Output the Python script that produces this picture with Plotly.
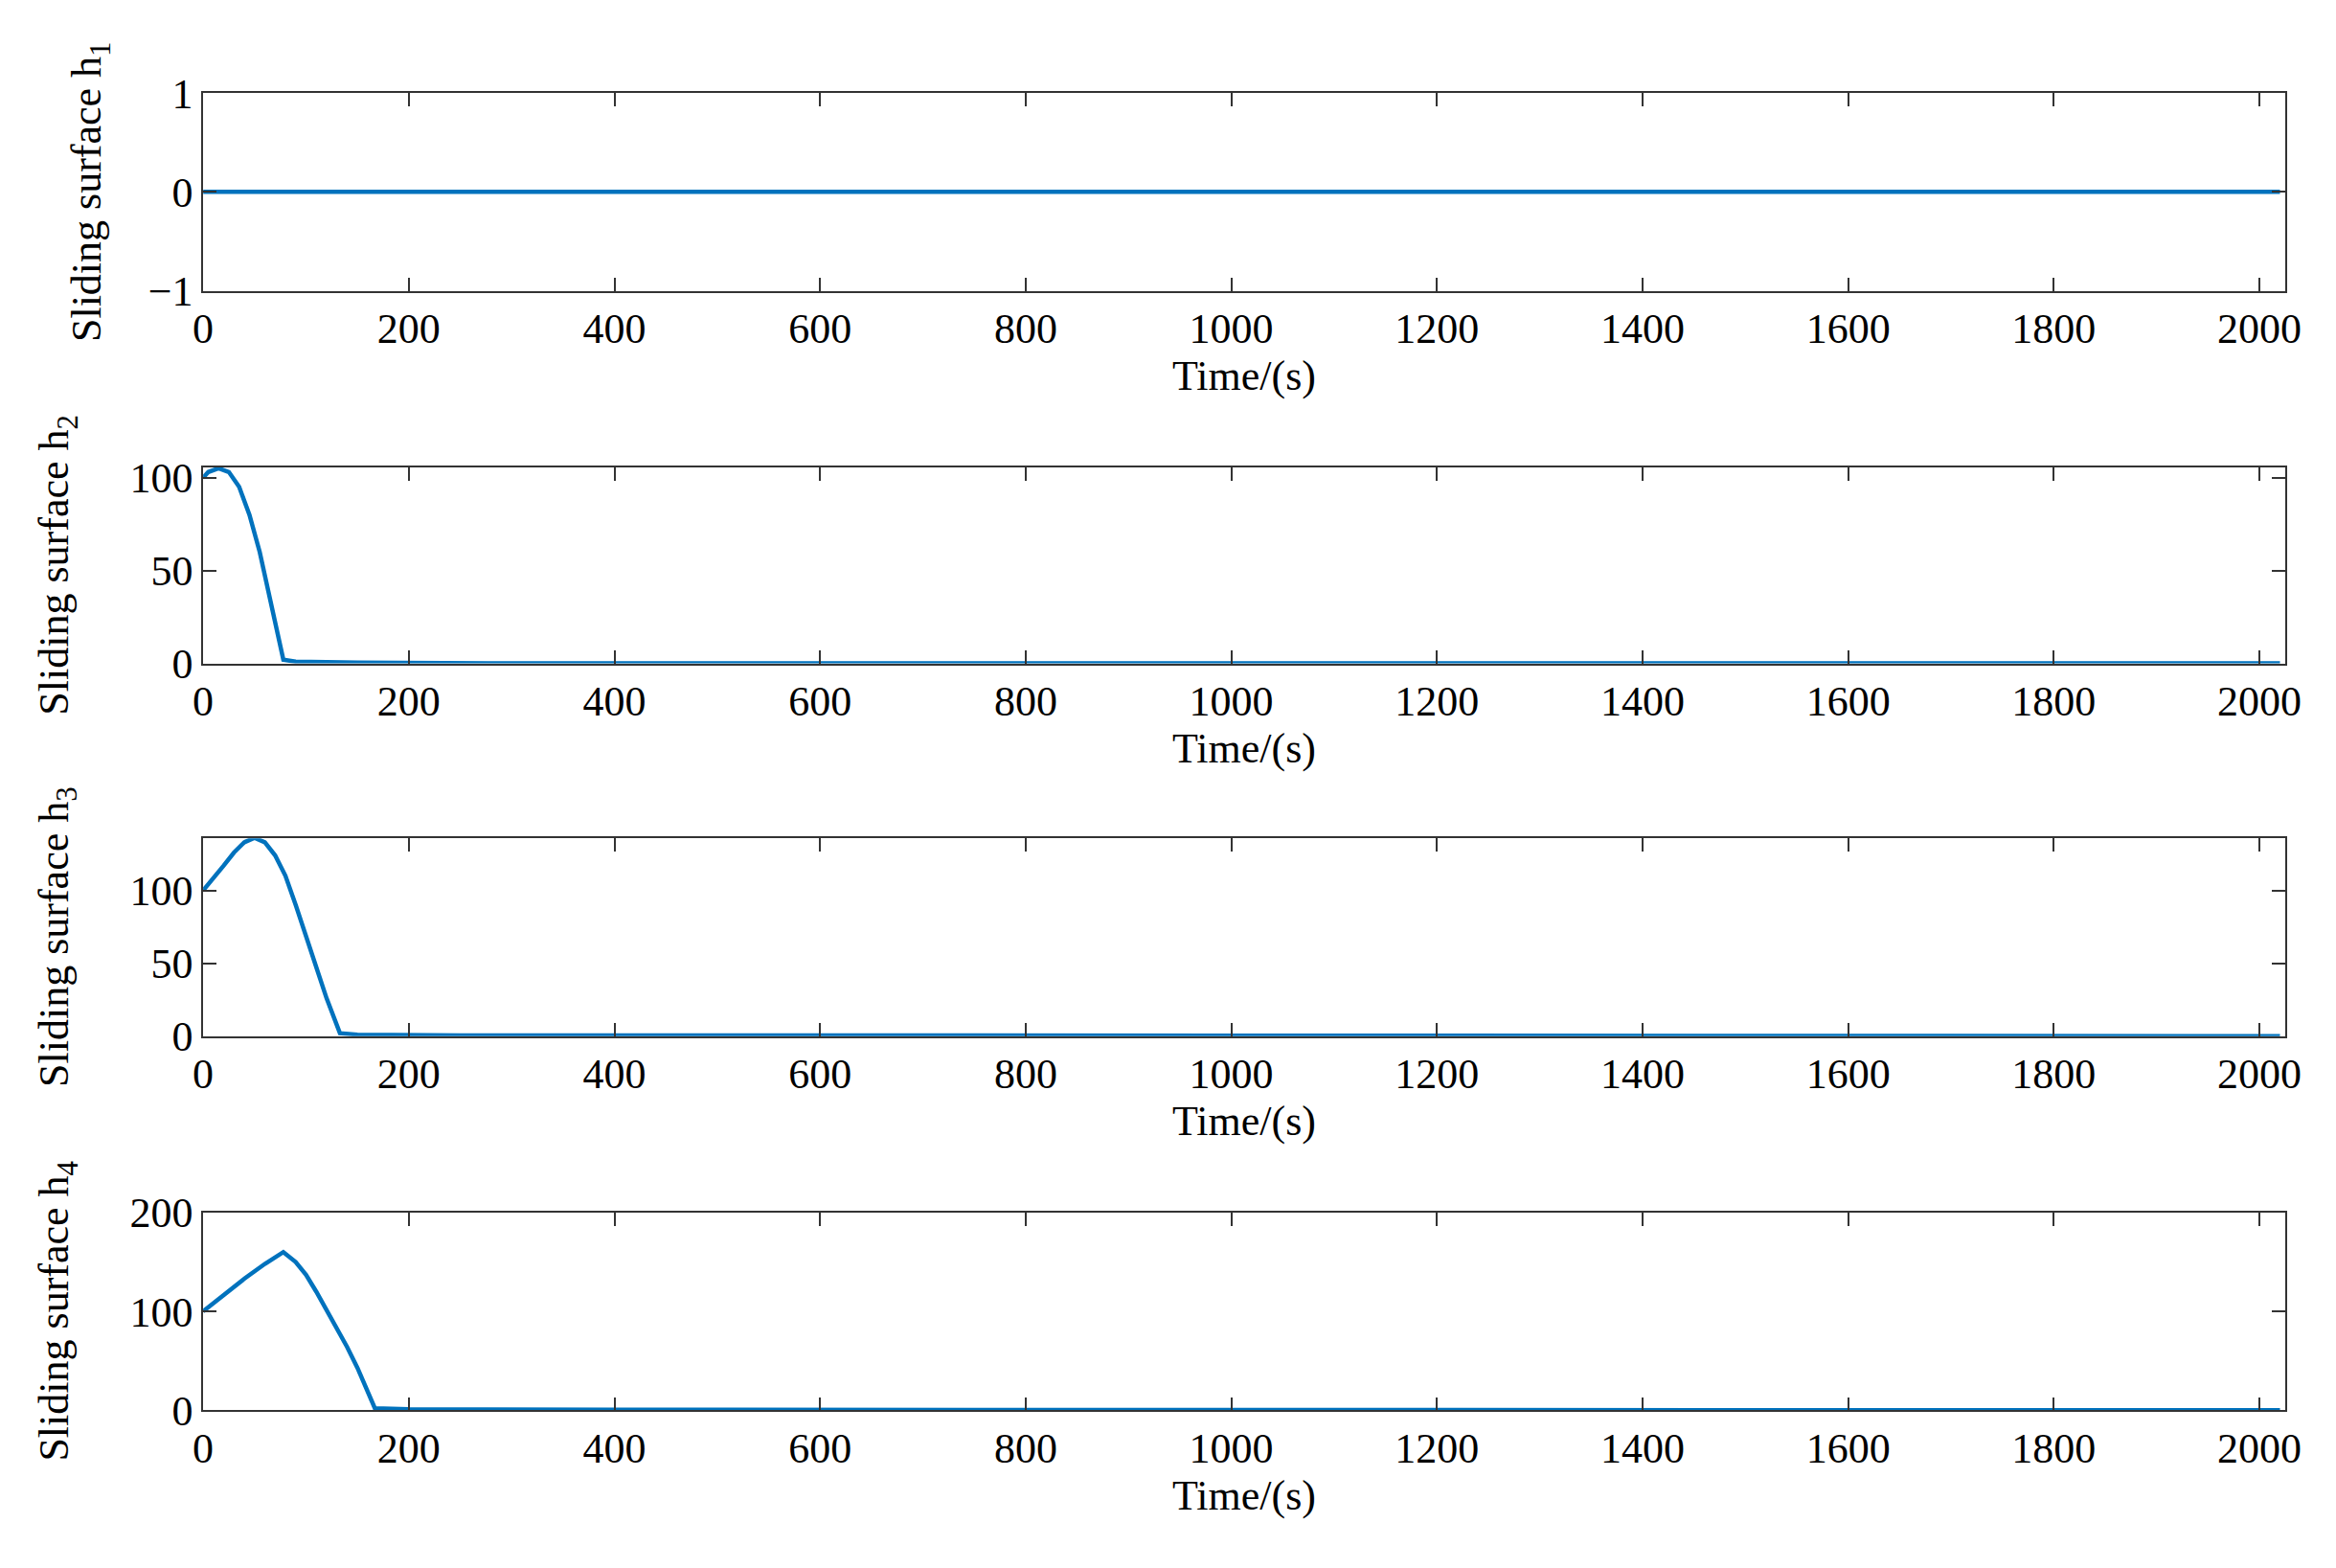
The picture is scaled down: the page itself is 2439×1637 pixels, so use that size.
import plotly.graph_objects as go

t1 = [0, 1280, 1300, 1320, 1340, 2020]
h1 = [0, 0, 0.005, 0, 0.005, 0]
t2 = [0, 5, 15, 25, 35, 45, 55, 65, 72, 78, 90, 150, 300, 2020]
h2 = [100, 103, 105, 103, 95, 80, 60, 35, 15, 2, 1, 0.5, 0, 0]
t3 = [0, 10, 20, 30, 40, 50, 60, 70, 80, 90, 100, 110, 120, 133, 150, 250, 2020]
h3 = [100, 108, 117, 126, 133, 136, 133, 124, 110, 90, 68, 47, 26, 2, 1, 0.5, 0]
t4 = [0, 20, 40, 60, 78, 90, 100, 110, 120, 130, 140, 150, 160, 167, 200, 400, 2020]
h4 = [100, 117, 133, 148, 160, 150, 137, 120, 102, 84, 64, 43, 20, 2, 1, 0.5, 0]
yranges = [[-1, 1], [0, 105.6], [0, 135.7], [0, 200]]
yticks = [[-1, 0, 1], [0, 50, 100], [0, 50, 100], [0, 100, 200]]
ylabels = ["Sliding surface h<sub>1</sub>", "Sliding surface h<sub>2</sub>",
           "Sliding surface h<sub>3</sub>", "Sliding surface h<sub>4</sub>"]
xticks = list(range(0, 2001, 200))

domains = [[0.829, 0.959], [0.584, 0.713], [0.339, 0.469], [0.093, 0.223]]
font = dict(family="Liberation Serif", size=44, color="black")
fig = go.Figure()
data = [(t1, h1), (t2, h2), (t3, h3), (t4, h4)]
lay = dict(width=2439, height=1637, plot_bgcolor="white", paper_bgcolor="white",
           margin=dict(l=0, r=0, t=0, b=0), showlegend=False, font=font)
ann = []
title_x = [0.031, 0.0168, 0.0168, 0.0168]
for i, (t, h) in enumerate(data):
    k = "" if i == 0 else str(i + 1)
    fig.add_trace(go.Scatter(x=t, y=h, mode="lines", line=dict(color="#0072BD", width=4.5),
                             xaxis="x" + k, yaxis="y" + k))
    ax = dict(domain=[0.0801, 0.9817], range=[0, 2025], tickvals=xticks, ticks="inside",
              ticklen=14, tickwidth=1.5, tickcolor="#333", showline=True, linecolor="#333",
              linewidth=1.5, mirror="ticks", showgrid=False, zeroline=False,
              anchor="y" + k, tickfont=font,
              title=dict(text="Time/(s)", font=font, standoff=8))
    ay = dict(domain=domains[i], range=yranges[i], tickvals=yticks[i], ticks="inside",
              ticklen=14, tickwidth=1.5, tickcolor="#333", showline=True, linecolor="#333",
              linewidth=1.5, mirror="ticks", showgrid=False, zeroline=False,
              anchor="x" + k, tickfont=font, ticksuffix=" ")
    if i == 0:
        ay["ticktext"] = ["\u22121", "0", "1"]
    lay["xaxis" + k] = ax
    lay["yaxis" + k] = ay
    ann.append(dict(text=ylabels[i], x=title_x[i], y=sum(domains[i]) / 2, xref="paper",
                    yref="paper", textangle=-90, showarrow=False, font=font,
                    xanchor="center", yanchor="middle"))
lay["annotations"] = ann
fig.update_layout(**lay)
fig.write_html("out.html")
